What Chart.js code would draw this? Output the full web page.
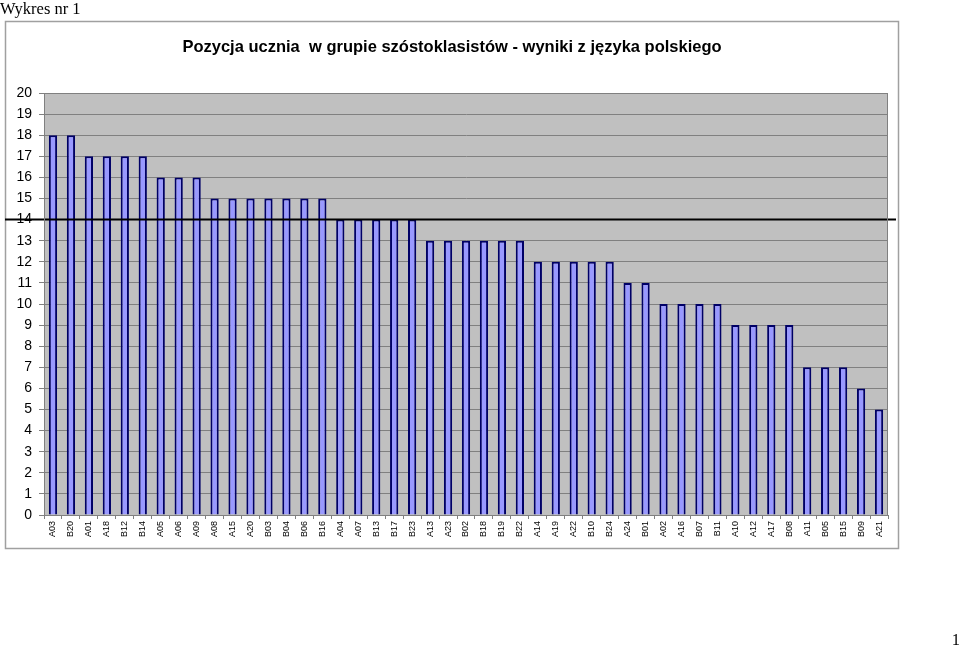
<!DOCTYPE html>
<html>
<head>
<meta charset="utf-8">
<script src="https://cdn.jsdelivr.net/npm/chart.js@4.4.1/dist/chart.umd.min.js"></script>
<style>
html,body{margin:0;padding:0;background:#fff;}
#wrap{position:relative;width:960px;height:646px;}
</style>
</head>
<body>
<div id="wrap"><canvas id="c" width="960" height="646"></canvas></div>
<script>
const categories = ["A03","B20","A01","A18","B12","B14","A05","A06","A09","A08","A15","A20","B03","B04","B06","B16","A04","A07","B13","B17","B23","A13","A23","B02","B18","B19","B22","A14","A19","A22","B10","B24","A24","B01","A02","A16","B07","B11","A10","A12","A17","B08","A11","B05","B15","B09","A21"];
const values = [18,18,17,17,17,17,16,16,16,15,15,15,15,15,15,15,14,14,14,14,14,13,13,13,13,13,13,12,12,12,12,12,11,11,10,10,10,10,9,9,9,9,7,7,7,6,5];
const referenceLevel = 14;
const yTicks = [0,1,2,3,4,5,6,7,8,9,10,11,12,13,14,15,16,17,18,19,20];
const titleText = "Pozycja ucznia  w grupie szóstoklasistów - wyniki z języka polskiego";
const headerText = "Wykres nr 1";
const pageNumber = "1";

const decor = {
  id: 'decor',
  beforeDraw(chart) {
    const ctx = chart.ctx;
    const a = chart.chartArea;
    ctx.save();
    ctx.fillStyle = '#fff';
    ctx.fillRect(0, 0, chart.width, chart.height);
    ctx.strokeStyle = '#a0a0a0';
    ctx.lineWidth = 1.5;
    ctx.strokeRect(5.5, 21.5, 893, 527);
    ctx.fillStyle = '#c0c0c0';
    ctx.fillRect(a.left, a.top, a.right - a.left, a.bottom - a.top);
    ctx.fillStyle = '#000';
    ctx.font = '16.5px "Liberation Serif"';
    ctx.textBaseline = 'alphabetic';
    ctx.textAlign = 'left';
    ctx.fillText(headerText, 0, 14);
    ctx.textAlign = 'right';
    ctx.fillText(pageNumber, 960, 645);
    ctx.font = 'bold 16.5px "Liberation Sans"';
    ctx.textAlign = 'center';
    ctx.fillText(titleText, 452, 52);
    ctx.restore();
  },
  afterDatasetsDraw(chart) {
    const ctx = chart.ctx;
    const y = chart.scales.y.getPixelForValue(referenceLevel);
    const a = chart.chartArea;
    ctx.save();
    ctx.strokeStyle = '#000';
    ctx.lineWidth = 2;
    ctx.beginPath();
    ctx.moveTo(5, y);
    ctx.lineTo(896, y);
    ctx.stroke();
    ctx.strokeStyle = '#808080';
    ctx.lineWidth = 1;
    ctx.strokeRect(a.left + 0.5, a.top + 0.5, a.right - a.left - 1, a.bottom - a.top);
    ctx.restore();
  }
};

new Chart(document.getElementById('c'), {
  type: 'bar',
  data: {
    labels: categories,
    datasets: [{
      data: values,
      backgroundColor: '#9999ff',
      borderColor: '#000066',
      borderWidth: 2,
      barPercentage: 0.46,
      categoryPercentage: 1.0
    }]
  },
  options: {
    responsive: false,
    animation: false,
    devicePixelRatio: 1,
    layout: { padding: { left: 4, right: 72, top: 93, bottom: 88 } },
    plugins: { legend: { display: false }, tooltip: { enabled: false }, title: { display: false } },
    scales: {
      x: {
        grid: { drawOnChartArea: false, drawTicks: true, tickLength: 4, color: '#808080', offset: true },
        border: { display: true, color: '#808080' },
        ticks: {
          autoSkip: false, maxRotation: 90, minRotation: 90, padding: 2,
          color: '#000', font: { family: 'Liberation Sans', size: 9 }
        },
        afterFit(s) { s.height = 43; }
      },
      y: {
        min: 0, max: 20,
        afterBuildTicks(s) { s.ticks = yTicks.map(v => ({ value: v })); },
        grid: { color: '#808080', lineWidth: 1, tickLength: 5 },
        border: { display: true, color: '#808080' },
        ticks: {
          stepSize: 1, padding: 7, color: '#000',
          font: { family: 'Liberation Sans', size: 14 }
        },
        afterFit(s) { s.width = 40; }
      }
    }
  },
  plugins: [decor]
});
</script>
</body>
</html>
